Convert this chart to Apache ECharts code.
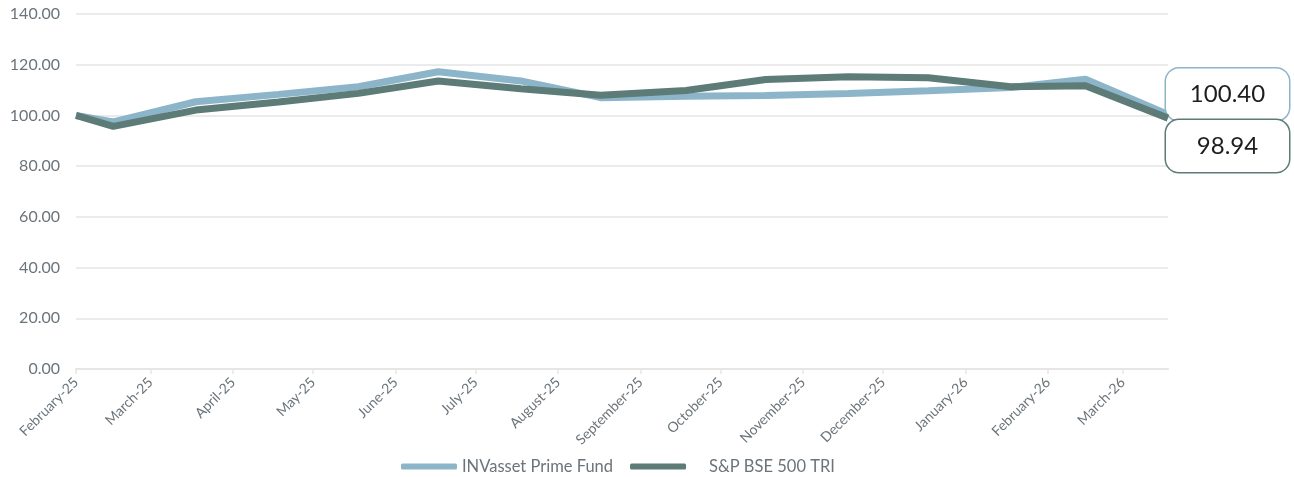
<!DOCTYPE html>
<html>
<head>
<meta charset="utf-8">
<script src="https://cdn.jsdelivr.net/npm/echarts@6/dist/echarts.min.js"></script>
<style>
html,body{margin:0;padding:0;background:#fff;}
#chart{width:1294px;height:477px;}
</style>
</head>
<body>
<div id="chart"></div>
<script>
const dates = ['2025-02-01','2025-02-15','2025-03-18','2025-04-18','2025-05-18','2025-06-17','2025-07-18','2025-08-17','2025-09-18','2025-10-18','2025-11-18','2025-12-18','2026-01-18','2026-02-15','2026-03-18'];
const fundValues = [100, 97.4, 105.4, 108.3, 111.3, 117.2, 113.6, 107.0, 107.6, 107.9, 108.6, 109.7, 111.0, 114.3, 100.40];
const indexValues = [100, 95.7, 102.1, 105.3, 108.7, 113.6, 110.5, 108.0, 109.8, 114.2, 115.3, 114.9, 111.3, 111.7, 98.94];
const seriesNames = ['INVasset Prime Fund', 'S&P BSE 500 TRI'];
const monthNames = ['January','February','March','April','May','June','July','August','September','October','November','December'];
const yTicks = [0, 20, 40, 60, 80, 100, 120, 140];

const fundColor = '#8db5ca';
const indexColor = '#5d7b77';
const font = 'Lato, "Noto Sans", sans-serif';

const chart = echarts.init(document.getElementById('chart'), null, {renderer: 'canvas'});

function pairs(vals) { return dates.map((d, i) => [d, vals[i]]); }

function endLabel(color, dy) {
  return {
    show: true,
    formatter: p => '{v|' + p.value[1].toFixed(2) + '}',
    rich: {
      v: {
        fontFamily: font,
        fontSize: 24,
        color: '#1e1e1e',
        width: 123,
        align: 'center',
        lineHeight: 28
      }
    },
    backgroundColor: '#fff',
    borderColor: color,
    borderWidth: 1.5,
    borderRadius: 13,
    padding: [12, 0],
    distance: 0,
    offset: [-2, dy]
  };
}

chart.setOption({
  animation: false,
  grid: {left: 76, right: 126, top: 14, bottom: 108},
  legend: {
    top: 453,
    left: 396,
    icon: 'roundRect',
    itemWidth: 56,
    itemHeight: 6,
    itemGap: 17,
    textStyle: {fontFamily: font, fontSize: 16.5, color: '#6b747a'},
    data: [
      {name: seriesNames[0]},
      {name: seriesNames[1], textStyle: {padding: [0, 0, 0, 18]}}
    ]
  },
  xAxis: {
    type: 'time',
    min: dates[0],
    max: dates[dates.length - 1],
    minInterval: 28 * 86400000,
    maxInterval: 31 * 86400000,
    axisLine: {show: true, lineStyle: {color: '#e6e6e6', width: 2}},
    axisTick: {show: true, length: 5, lineStyle: {color: '#e6e6e6', width: 1.5}},
    splitLine: {show: false},
    axisLabel: {
      rotate: 45,
      margin: 11,
      fontFamily: font,
      fontSize: 14,
      color: '#6b747a',
      formatter: v => {
        const d = new Date(v);
        return monthNames[d.getMonth()] + '-' + String(d.getFullYear()).slice(2);
      }
    }
  },
  yAxis: {
    type: 'value',
    min: yTicks[0],
    max: yTicks[yTicks.length - 1],
    interval: 20,
    axisLine: {show: false},
    axisTick: {show: false},
    splitLine: {lineStyle: {color: '#ebebeb', width: 2}},
    axisLabel: {
      margin: 16,
      fontFamily: font,
      fontSize: 16,
      color: '#6b747a',
      formatter: v => v.toFixed(2)
    }
  },
  series: [
    {
      name: seriesNames[0],
      type: 'line',
      data: pairs(fundValues),
      showSymbol: false,
      symbol: 'none',
      color: fundColor,
      lineStyle: {width: 7, color: fundColor},
      endLabel: endLabel(fundColor, -20),
      z: 2
    },
    {
      name: seriesNames[1],
      type: 'line',
      data: pairs(indexValues),
      showSymbol: false,
      symbol: 'none',
      color: indexColor,
      lineStyle: {width: 7, color: indexColor},
      endLabel: endLabel(indexColor, 28),
      z: 3
    }
  ]
});
</script>
</body>
</html>
